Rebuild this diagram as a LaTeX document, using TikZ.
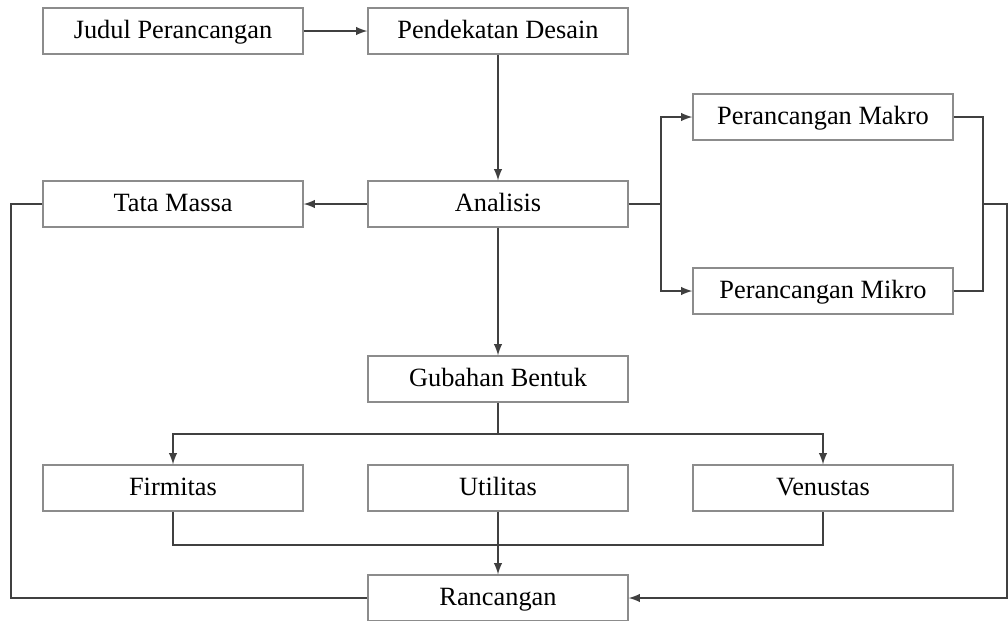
\documentclass[tikz,border=0pt]{standalone}
\usepackage{fontspec}
\setmainfont{Liberation Serif}
\usetikzlibrary{arrows}

\begin{document}
\begin{tikzpicture}[x=0.2mm, y=-0.2mm,
	box/.style={draw=black!45, line width=0.8pt, minimum width=52mm, minimum height=9.2mm, inner sep=0pt, text height=10pt, text depth=2pt, font=\fontsize{15}{17}\selectfont},
	link/.style={draw=black!75, line width=1.2pt}]% {{{ alur perancangan
	\useasboundingbox (0,0) rectangle (1008,621);

	\node[box] (judul) at (173,31) {Judul Perancangan};
	\node[box] (pendekatan) at (498,31) {Pendekatan Desain};
	\node[box] (tata) at (173,204) {Tata Massa};
	\node[box] (analisis) at (498,204) {Analisis};
	\node[box] (makro) at (823,117) {Perancangan Makro};
	\node[box] (mikro) at (823,291) {Perancangan Mikro};
	\node[box] (gubahan) at (498,379) {Gubahan Bentuk};
	\node[box] (firmitas) at (173,488) {Firmitas};
	\node[box] (utilitas) at (498,488) {Utilitas};
	\node[box] (venustas) at (823,488) {Venustas};
	\node[box] (rancangan) at (498,598) {Rancangan};

	\draw[link, ->, >=latex] (judul) -- (pendekatan);
	\draw[link, ->, >=latex] (pendekatan) -- (analisis);
	\draw[link, ->, >=latex] (analisis) -- (tata);
	\draw[link, ->, >=latex] (analisis) -- (gubahan);

	% makro / mikro
	\draw[link] (analisis.east) -- ++(32,0) coordinate (lj);
	\draw[link, ->, >=latex] (lj) |- (makro.west);
	\draw[link, ->, >=latex] (lj) |- (mikro.west);
	\coordinate (rj) at (983,204);
	\coordinate (rc) at (1007,204);
	\draw[link] (makro.east) -| (rj) |- (mikro.east);
	\draw[link, ->, >=latex] (rj) -- (rc) |- (rancangan.east);
	\draw[link] (tata.west) -- ++(-31,0) coordinate (tl) |- (rancangan.west);

	% firmitas, utilitas, venustas
	\draw[link] (gubahan.south) -- ++(0,31) coordinate (gj);
	\draw[link, ->, >=latex] (gj) -| (firmitas.north);
	\draw[link, ->, >=latex] (gj) -| (venustas.north);
	\draw[link] (firmitas.south) -- ++(0,33) coordinate (fj) -| (venustas.south);
	\draw[link, ->, >=latex] (utilitas) -- (rancangan);
\end{tikzpicture}
\end{document}
